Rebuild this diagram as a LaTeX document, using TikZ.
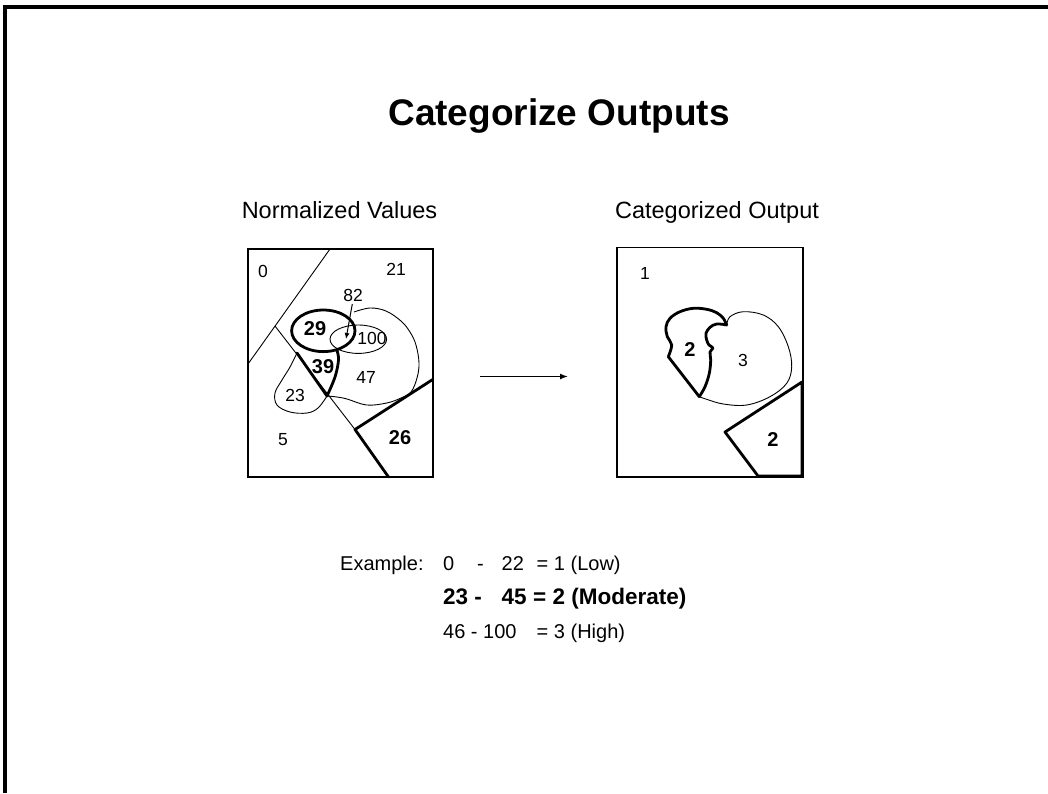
\documentclass[tikz,border=0pt]{standalone}
\usepackage{fontspec}
\setmainfont{Liberation Sans}
\usetikzlibrary{arrows.meta}
\begin{document}
\begin{tikzpicture}[x=1pt,y=-1pt,
  lbl/.style={inner sep=0pt, font=\fontsize{17.5}{17.5}\selectfont},
  blbl/.style={inner sep=0pt, font=\fontsize{20}{20}\selectfont\bfseries},
  captext/.style={inner sep=0pt, anchor=base, font=\fontsize{23.5}{23.5}\selectfont},
  txt/.style={inner sep=0pt, anchor=base west, font=\fontsize{20}{20}\selectfont},
  btxt/.style={inner sep=0pt, anchor=base west, font=\fontsize{22.5}{22.5}\selectfont\bfseries},
  thinln/.style={line width=0.9pt},
  thickln/.style={line width=2.8pt, line join=round, line cap=round},
  panel/.style={line width=1.3pt},
  outerframe/.style={line width=3.5pt}
]
\useasboundingbox (0,0) rectangle (1048,793);
\fill[white] (0,0) rectangle (1048,793);
\draw[outerframe] (5,793) -- (5,7) -- (1048,7);

% title and panel captions
\node[inner sep=0pt, anchor=base, font=\fontsize{37}{37}\selectfont\bfseries] (title) at (559,125) {Categorize Outputs};
\node[captext] (capL) at (339.5,218.5) {Normalized Values};
\node[captext] (capR) at (717,218.5) {Categorized Output};

% ---------- left panel: normalized values ----------
\draw[thinln] (330,249) -- (248,364);
\draw[thinln] (275,326) -- (355,429.5);
% region 23
\draw[thinln] plot[smooth, tension=0.6] coordinates {(297,353) (290,367) (282,380) (275,393) (277,405) (290,412) (307,413) (318,408) (327,396)};
% region 47
\draw[thinln] plot[smooth, tension=0.6] coordinates {(327,396) (337,397) (347,399) (366.7,405) (386.7,403) (401,398) (411,392) (417,378) (419,363) (416,345) (410,332) (401,321) (386,311) (370,308) (354,312)};
% region 100
\draw[thinln] (358.3,339.2) ellipse [x radius=28.3, y radius=14.2];
% region 29
\draw[thickln] (323.3,330.8) ellipse [x radius=31.7, y radius=20.8];
% region 39
\draw[thickln] (297,353) -- (327,396);
\draw[thickln] plot[smooth, tension=0.6] coordinates {(327,396) (335,377) (338.5,360) (337,350.5)};
% region 26
\draw[thickln] (433,379.3) -- (355,429.5) -- (388.5,477);
\draw[panel] (248,249) rectangle (433,477);
% pointer to 100
\coordinate (p82) at (352.3,304);
\coordinate (p100) at (346,339);
\draw[line width=1pt, -{Latex[length=6pt,width=5pt]}] (p82) -- (p100);

\node[lbl] (v0) at (263,271) {0};
\node[lbl] (v21) at (396,269) {21};
\node[lbl] (v82) at (353,295) {82};
\node[blbl] (v29) at (315,329) {29};
\node[lbl] (v100) at (372,338) {100};
\node[blbl] (v39) at (323,367) {39};
\node[lbl] (v47) at (366,377) {47};
\node[lbl] (v23) at (295,395) {23};
\node[lbl] (v5) at (283,440) {5};
\node[blbl] (v26) at (400,438) {26};

% ---------- arrow ----------
\coordinate (arrS) at (480,376.5);
\coordinate (arrE) at (568,376.5);
\draw[line width=1.4pt, -{Latex[length=8pt,width=6pt]}] (arrS) -- (arrE);

% ---------- right panel: categorized output ----------
% category 3
\draw[thinln] plot[smooth, tension=0.6] coordinates {(726.7,325) (730,316.7) (743.3,311.7) (763.3,315) (778.3,326.7) (788.3,346.7) (791.7,366.7) (786.7,383.3) (770,396.7) (746.7,405) (723.3,404) (706.7,399.3) (699.3,396.7)};
% category 2 (upper)
\draw[thickln] (668.3,356.7) -- (699.3,396.7)
  plot[smooth, tension=0.6] coordinates {(699.3,396.7) (705,386.7) (709.3,373.3) (710.7,360) (710,352) (713,348) (709,345) (706.7,340) (706,333.3) (710,327.3) (716.7,324) (726.7,325)}
  plot[smooth, tension=0.6] coordinates {(726.7,325) (723.3,318.3) (716.7,312.7) (706.7,309.3) (693.3,308.3) (680,311.7) (670,318.3) (666,326.7) (667.3,336.7) (671.7,345) (668.3,356.7)};
% category 2 (lower)
\draw[thickln, line cap=butt] (725,432) -- (802,382) -- (802,476) -- (758,476) -- cycle;
\draw[panel] (617,247.5) rectangle (803,477);

\node[lbl] (c1) at (645,273) {1};
\node[blbl] (c2a) at (690,350) {2};
\node[lbl] (c3) at (743,360) {3};
\node[blbl] (c2b) at (773,440) {2};

% ---------- example classes ----------
\node[txt] (ex) at (340,570) {Example:};
\node[txt] (r1a) at (443,570) {0};
\node[txt] (r1b) at (477,570) {-};
\node[txt] (r1c) at (501.5,570) {22};
\node[txt] (r1d) at (536.5,570) {= 1 (Low)};
\node[btxt] (r2a) at (443,604) {23 -};
\node[btxt] (r2b) at (501.5,604) {45};
\node[btxt] (r2c) at (533,604) {= 2 (Moderate)};
\node[txt] (r3a) at (443,638) {46 - 100};
\node[txt] (r3b) at (536.5,638) {= 3 (High)};
\end{tikzpicture}
\end{document}
